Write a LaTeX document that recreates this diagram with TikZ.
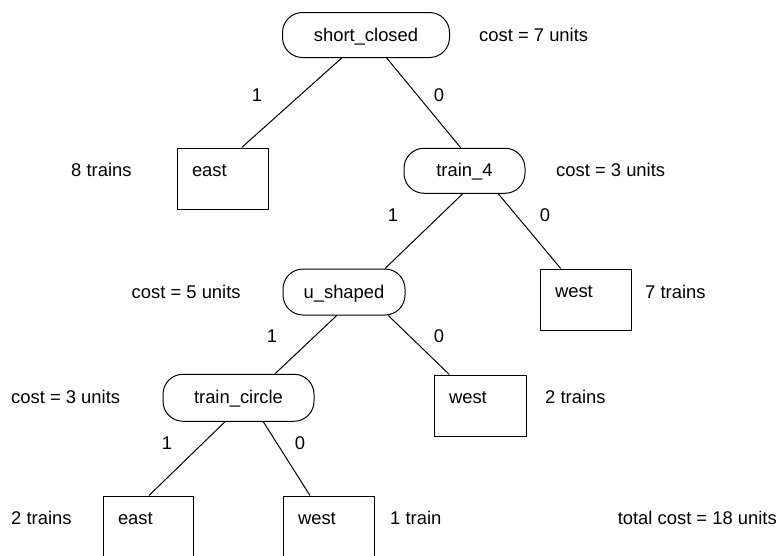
\documentclass[tikz,border=0pt]{standalone}
\usepackage{fontspec}
\setmainfont{Liberation Sans}
\begin{document}
\begin{tikzpicture}[x=1pt,y=-1pt,
  every node/.style={font=\fontsize{18.4pt}{22pt}\selectfont, inner sep=0pt},
  test/.style={draw, line width=1pt, rounded corners=20pt, text height=12pt, text depth=0pt},
  leaf/.style={draw, line width=1pt, text width=61pt, inner xsep=15pt, align=left, minimum height=61pt, text height=10.8pt, text depth=15pt},
  lab/.style={anchor=base},
  info/.style={anchor=base west},
  conn/.style={line width=1pt}]
\useasboundingbox (0,0) rectangle (778,555);
% decision nodes
\node[test, minimum width=167pt, minimum height=45pt] (sc) at (366,35) {short\_closed};
\node[test, minimum width=121pt, minimum height=45pt] (t4) at (464.5,170.75) {train\_4};
\node[test, minimum width=122pt, minimum height=46pt] (u) at (344,292) {u\_shaped};
\node[test, minimum width=151pt, minimum height=47pt] (tc) at (238.5,397.75) {train\_circle};
% leaves
\node[leaf] (e1) at (222.5,178.5) {east};
\node[leaf] (w1) at (585.5,299.5) {west};
\node[leaf, text width=62pt] (w2) at (480,405.5) {west};
\node[leaf, text width=60pt] (e2) at (148,526.5) {east};
\node[leaf] (w3) at (328.5,526.5) {west};
% connectors
\draw[conn] ([xshift=-24.3pt]sc.south) -- ([xshift=19.2pt]e1.north);
\draw[conn] ([xshift=20.7pt]sc.south) -- ([xshift=-3.8pt]t4.north);
\draw[conn] ([xshift=-1.8pt]t4.south) -- ([xshift=41pt]u.north);
\draw[conn] ([xshift=33.8pt]t4.south) -- ([xshift=-24.8pt]w1.north);
\draw[conn] ([xshift=-7.3pt]u.south) -- ([xshift=36.5pt]tc.north);
\draw[conn] ([xshift=44.3pt]u.south) -- ([xshift=-30.7pt]w2.north);
\draw[conn] ([xshift=-13.5pt]tc.south) -- ([xshift=1pt]e2.north);
\draw[conn] ([xshift=24.8pt]tc.south) -- ([xshift=-18.5pt]w3.north);
% branch labels
\node[lab] (a1) at (257,101) {1};
\node[lab] (a0) at (439,101) {0};
\node[lab] (b1) at (393,221) {1};
\node[lab] (b0) at (545,221) {0};
\node[lab] (c1l) at (272,342) {1};
\node[lab] (c0l) at (439,342) {0};
\node[lab] (d1) at (167,449) {1};
\node[lab] (d0) at (300,449) {0};
% side texts
\node[info] (k1) at (479,41) {cost = 7 units};
\node[info] (n8) at (71,176.7) {8 trains};
\node[info] (k2) at (556,176.5) {cost = 3 units};
\node[info] (k3) at (131.5,298) {cost = 5 units};
\node[info] (n7) at (645,298) {7 trains};
\node[info] (k4) at (11,403.5) {cost = 3 units};
\node[info] (n2a) at (545,403.5) {2 trains};
\node[info] (n2b) at (11,524.4) {2 trains};
\node[info] (n1) at (390,524.4) {1 train};
\node[anchor=base east] (tot) at (777,524.4) {total cost = 18 units};
\end{tikzpicture}
\end{document}
